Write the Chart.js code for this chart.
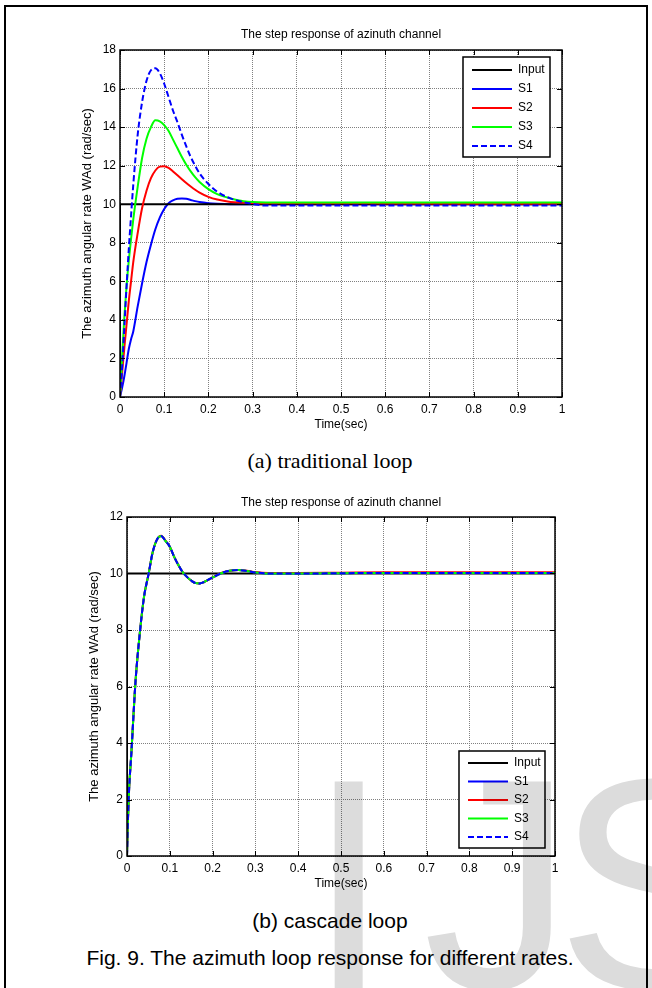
<!DOCTYPE html>
<html>
<head>
<meta charset="utf-8">
<script src="https://cdn.jsdelivr.net/npm/chart.js@4.4.1/dist/chart.umd.min.js"></script>
<style>
body { margin:0; background:#fff; width:652px; height:988px; overflow:hidden; position:relative; font-family:'Liberation Sans', Arial, sans-serif; }
#frame { position:absolute; left:4px; top:5px; width:640px; height:1000px; border:2px solid #000; border-bottom:none; }
canvas { position:absolute; left:0; }
.cap { position:absolute; left:0; width:660px; text-align:center; color:#000; white-space:nowrap; }
#wm { position:absolute; left:0; top:0; width:652px; height:988px; overflow:hidden; mix-blend-mode:multiply; pointer-events:none; z-index:5; }
#wm span { position:absolute; top:734px; font-size:300px; line-height:300px; color:#dcdcdc; font-family:'Liberation Sans', Arial, sans-serif; }
</style>
</head>
<body>
<div id="frame"></div>
<canvas id="chartA" width="652" height="440" style="top:0px"></canvas>
<div class="cap" style="top:450px;font-family:'Liberation Serif','Times New Roman',serif;font-size:22px;line-height:22px;">(a) traditional loop</div>
<canvas id="chartB" width="652" height="430" style="top:470px"></canvas>
<div class="cap" style="top:910px;font-size:21px;line-height:21px;">(b) cascade loop</div>
<div class="cap" style="top:947px;font-size:21px;line-height:21px;">Fig. 9. The azimuth loop response for different rates.</div>
<div id="wm"><span style="left:307px">I</span><span style="left:423px">J</span><span style="left:556px">S</span></div>

<script>
// (a) traditional loop
var tA  = [0, 0.005, 0.01, 0.015, 0.02, 0.025, 0.03, 0.04, 0.05, 0.06, 0.07, 0.08, 0.09, 0.1, 0.11, 0.12, 0.13, 0.14, 0.15, 0.16, 0.17, 0.18, 0.2, 0.22, 0.25, 0.28, 0.3, 0.33, 0.4, 0.5, 0.6, 0.8, 1];
var s1A = [0, 0.5, 1.1, 1.8, 2.5, 3.0, 3.4, 4.7, 5.9, 7.0, 7.9, 8.7, 9.3, 9.75, 10.05, 10.2, 10.28, 10.3, 10.28, 10.22, 10.16, 10.11, 10.05, 10.02, 10.0, 10.0, 10.0, 10.0, 10.0, 10.0, 10.0, 10.0, 10.0];
var s2A = [0, 1.3, 2.6, 3.8, 5.0, 6.0, 7.0, 8.5, 9.8, 10.7, 11.35, 11.75, 11.95, 11.97, 11.88, 11.7, 11.5, 11.3, 11.1, 10.92, 10.75, 10.6, 10.38, 10.24, 10.12, 10.08, 10.06, 10.05, 10.05, 10.05, 10.04, 10.03, 10.03];
var s3A = [0, 2.2, 4.2, 5.8, 7.1, 8.2, 9.2, 10.9, 12.4, 13.4, 14.0, 14.35, 14.3, 14.1, 13.8, 13.35, 12.9, 12.45, 12.05, 11.7, 11.4, 11.15, 10.78, 10.52, 10.3, 10.16, 10.11, 10.09, 10.09, 10.09, 10.09, 10.09, 10.09];
var s4A = [0, 1.6, 3.7, 5.8, 7.7, 9.4, 11.0, 13.6, 15.3, 16.4, 16.95, 17.05, 16.8, 16.25, 15.55, 14.85, 14.25, 13.6, 13.0, 12.45, 12.0, 11.6, 11.05, 10.65, 10.3, 10.1, 10.02, 9.93, 9.93, 9.93, 9.93, 9.93, 9.93];

// (b) cascade loop
var tB  = [0, 0.002, 0.005, 0.01, 0.02, 0.03, 0.04, 0.05, 0.06, 0.07, 0.08, 0.09, 0.1, 0.11, 0.12, 0.13, 0.14, 0.15, 0.16, 0.17, 0.18, 0.2, 0.22, 0.24, 0.26, 0.28, 0.3, 0.33, 0.4, 0.5, 0.6, 0.8, 1];
var s1B = [0, 1.2, 2.4, 3.6, 6.2, 7.9, 9.2, 9.95, 10.75, 11.2, 11.33, 11.15, 10.95, 10.6, 10.3, 10.05, 9.88, 9.75, 9.66, 9.65, 9.7, 9.86, 10.01, 10.1, 10.12, 10.09, 10.04, 10.0, 10.0, 10.01, 10.02, 10.02, 10.02];
var s2B = [0, 1.2, 2.4, 3.6, 6.2, 7.9, 9.2, 9.95, 10.75, 11.2, 11.34, 11.16, 10.95, 10.6, 10.3, 10.05, 9.88, 9.75, 9.66, 9.65, 9.7, 9.86, 10.02, 10.1, 10.12, 10.1, 10.05, 10.02, 10.02, 10.03, 10.04, 10.04, 10.04];
var s3B = [0, 1.2, 2.4, 3.6, 6.2, 7.9, 9.2, 9.95, 10.75, 11.2, 11.33, 11.15, 10.95, 10.6, 10.3, 10.05, 9.88, 9.75, 9.66, 9.65, 9.7, 9.86, 10.01, 10.1, 10.12, 10.09, 10.04, 10.0, 10.0, 10.01, 10.02, 10.02, 10.02];
var s4B = [0, 1.2, 2.4, 3.6, 6.2, 7.9, 9.2, 9.95, 10.75, 11.2, 11.33, 11.15, 10.95, 10.6, 10.3, 10.05, 9.88, 9.75, 9.66, 9.65, 9.7, 9.86, 10.01, 10.1, 10.12, 10.09, 10.04, 10.0, 10.0, 10.01, 10.02, 10.02, 10.02];

// step input
var inT = [0, 0, 1];
var inV = [0, 10, 10];

var names  = ['Input', 'S1', 'S2', 'S3', 'S4'];
var colors = ['#000000', '#0000ff', '#ff0000', '#00ff00', '#0000ff'];

Chart.defaults.font.family = "'Liberation Sans', Arial, sans-serif";
Chart.defaults.color = '#000';

function pts(t, v) {
  return t.map(function(x, i) { return {x: x, y: v[i]}; });
}

// matlab style box, inward ticks and boxed legend inside the axes
var matlabBox = {
  id: 'matlabBox',
  afterDatasetsDraw: function(chart, args, opts) {
    var ctx = chart.ctx, a = chart.chartArea, sx = chart.scales.x, sy = chart.scales.y;
    ctx.save();
    ctx.strokeStyle = '#000';
    ctx.lineWidth = 1;
    ctx.beginPath();
    sx.ticks.forEach(function(t) {
      var px = Math.round(sx.getPixelForValue(t.value)) + 0.5;
      ctx.moveTo(px, a.bottom); ctx.lineTo(px, a.bottom - 5);
      ctx.moveTo(px, a.top); ctx.lineTo(px, a.top + 5);
    });
    sy.ticks.forEach(function(t) {
      var py = Math.round(sy.getPixelForValue(t.value)) + 0.5;
      ctx.moveTo(a.left, py); ctx.lineTo(a.left + 5, py);
      ctx.moveTo(a.right, py); ctx.lineTo(a.right - 5, py);
    });
    ctx.stroke();
    ctx.lineWidth = 1.5;
    ctx.strokeRect(a.left, a.top, a.right - a.left, a.bottom - a.top);

    // legend
    var bx = a.right - opts.dx - opts.w;
    var by = opts.fromBottom ? a.bottom - opts.dy - opts.h : a.top + opts.dy;
    ctx.fillStyle = '#fff';
    ctx.fillRect(bx, by, opts.w, opts.h);
    ctx.strokeRect(bx, by, opts.w, opts.h);
    ctx.font = '12px ' + Chart.defaults.font.family;
    ctx.textBaseline = 'middle';
    ctx.textAlign = 'left';
    chart.data.datasets.forEach(function(ds, i) {
      var y = by + opts.first + i * opts.step;
      ctx.strokeStyle = ds.borderColor;
      ctx.lineWidth = 2;
      ctx.setLineDash(ds.borderDash || []);
      ctx.beginPath();
      ctx.moveTo(bx + 9, y); ctx.lineTo(bx + 49, y);
      ctx.stroke();
      ctx.setLineDash([]);
      ctx.fillStyle = '#000';
      ctx.fillText(ds.label, bx + 55, y);
    });
    ctx.restore();
  }
};

function makeChart(id, t, series, yMax, o) {
  var datasets = [{
    label: names[0], data: pts(inT, inV), borderColor: colors[0], borderWidth: 2,
    tension: 0, pointRadius: 0, order: o.inputOrder
  }];
  series.forEach(function(v, i) {
    datasets.push({
      label: names[i + 1], data: pts(t, v), borderColor: colors[i + 1], borderWidth: 2,
      cubicInterpolationMode: 'monotone', pointRadius: 0,
      borderDash: i === 3 ? [6, 3] : [], order: 5 - i
    });
  });

  return new Chart(document.getElementById(id), {
    type: 'line',
    data: { datasets: datasets },
    options: {
      responsive: false,
      animation: false,
      devicePixelRatio: 1,
      layout: { padding: { left: o.padLeft, right: o.padRight, top: 0, bottom: 0 } },
      plugins: {
        legend: { display: false },
        tooltip: { enabled: false },
        title: {
          display: true, text: 'The step response of azinuth channel', color: '#000',
          font: { size: 12, weight: 'normal' }, fullSize: false,
          padding: { top: o.titleTop, bottom: o.titleBottom }
        },
        matlabBox: o.legend
      },
      scales: {
        x: {
          type: 'linear', min: 0, max: 1,
          ticks: { stepSize: 0.1, padding: 5, font: { size: 12 }, maxRotation: 0, autoSkip: false,
                   callback: function(v) { return String(Number(v.toFixed(1))); } },
          grid: { color: '#808080', lineWidth: 1, drawTicks: false },
          border: { display: false, dash: [1, 1] },
          title: { display: true, text: 'Time(sec)', font: { size: 12 }, padding: { top: 0, bottom: o.xTitlePad } },
          afterFit: function(s) { s.height = o.xHeight; }
        },
        y: {
          min: 0, max: yMax,
          ticks: { stepSize: 2, padding: 4, font: { size: 12 } },
          grid: { color: '#808080', lineWidth: 1, drawTicks: false },
          border: { display: false, dash: [1, 1] },
          title: { display: true, text: 'The azimuth angular rate WAd (rad/sec)', font: { size: 13 }, padding: { top: 0, bottom: 0 } },
          afterFit: function(s) { s.width = 40; }
        }
      }
    },
    plugins: [matlabBox]
  });
}

makeChart('chartA', tA, [s1A, s2A, s3A, s4A], 18, {
  padLeft: 80, padRight: 90, titleTop: 27.8, titleBottom: 7.8, xHeight: 43, xTitlePad: 7.8,
  inputOrder: 4.5,
  legend: { w: 87, h: 100, dx: 12, dy: 7, fromBottom: false, first: 13, step: 19 }
});

makeChart('chartB', tB, [s1B, s2B, s3B, s4B], 12, {
  padLeft: 87, padRight: 97, titleTop: 25.8, titleBottom: 6.8, xHeight: 44, xTitlePad: 8.8,
  inputOrder: 6,
  legend: { w: 86, h: 97, dx: 10, dy: 8, fromBottom: true, first: 12, step: 18.5 }
});
</script>
</body>
</html>
